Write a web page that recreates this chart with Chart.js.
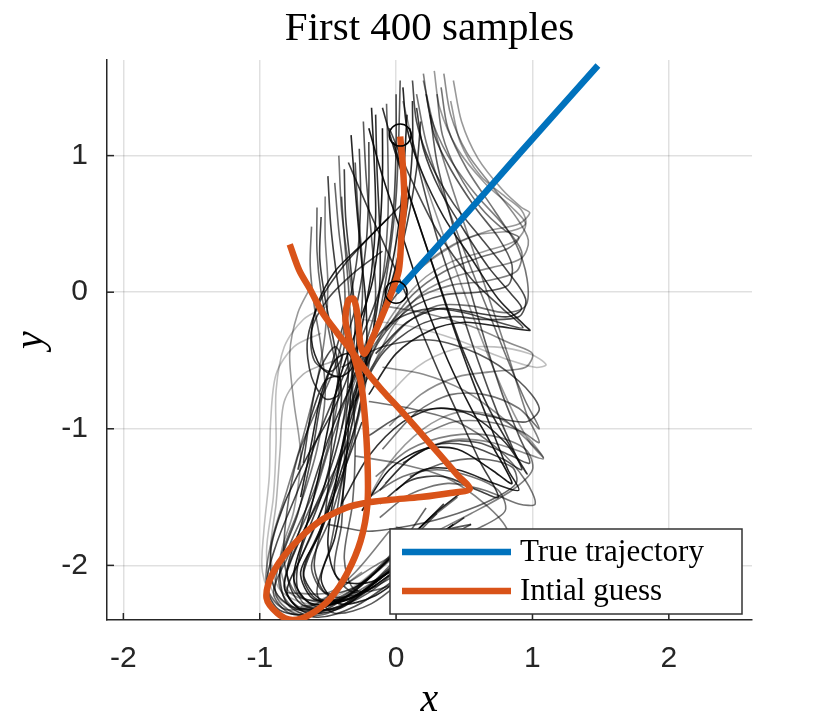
<!DOCTYPE html>
<html lang="en">
<head>
  <meta charset="UTF-8">
  <title>First 400 samples</title>
  <script src="https://cdn.jsdelivr.net/npm/chart.js"></script>
  <style>
    html, body { margin: 0; padding: 0; background: #fff; }
  </style>
</head>
<body>
  <canvas id="myChart" width="830" height="720"></canvas>

  <script>
    // axes
    const xRange = [-2.12, 2.61];
    const yRange = [-2.40, 1.70];
    const xTicks = [-2, -1, 0, 1, 2];
    const yTicks = [-2, -1, 0, 1];

    // true trajectory / initial guess, [x, y]
    const trueTraj = [[0, 0], [0.45, 0.50], [0.90, 1.01], [1.48, 1.66]];
    const initGuess = [
      [-0.78, 0.35], [-0.71, 0.16], [-0.63, 0.02], [-0.54, -0.15], [-0.43, -0.30], [-0.32, -0.44],
      [-0.21, -0.59], [-0.10, -0.72], [0.03, -0.86], [0.18, -1.03], [0.32, -1.19], [0.45, -1.34],
      [0.54, -1.44], [0.40, -1.47], [0.18, -1.50], [-0.04, -1.52], [-0.21, -1.54], [-0.37, -1.58],
      [-0.58, -1.69], [-0.78, -1.88], [-0.91, -2.07], [-0.95, -2.24], [-0.87, -2.35], [-0.76, -2.40],
      [-0.63, -2.36], [-0.48, -2.24], [-0.36, -2.06], [-0.26, -1.82], [-0.21, -1.55], [-0.21, -1.23],
      [-0.23, -0.90], [-0.26, -0.65], [-0.32, -0.43], [-0.37, -0.22], [-0.35, -0.06], [-0.31, -0.05],
      [-0.28, -0.19], [-0.26, -0.39], [-0.23, -0.45], [-0.14, -0.26], [-0.04, -0.02], [0.02, 0.16],
      [0.04, 0.43], [0.06, 0.67], [0.05, 0.92], [0.03, 1.14]
    ];
    const markers = [[0, 0], [0.03, 1.15]];

    // sample trajectories (a readable subset of the 400)
    const sampleA1 = [[-0.58,0.62],[-0.58,0.30],[-0.55,0.00],[-0.48,-0.35],[-0.42,-0.70],[-0.48,-1.05],[-0.60,-1.45],[-0.78,-1.85],[-0.86,-2.12],[-0.76,-2.30],[-0.52,-2.30],[-0.22,-2.10],[0.05,-1.82],[0.22,-1.58]];
    const sampleA2 = [[-0.50,0.85],[-0.48,0.50],[-0.44,0.15],[-0.38,-0.25],[-0.35,-0.60],[-0.40,-1.00],[-0.52,-1.40],[-0.70,-1.80],[-0.82,-2.15],[-0.70,-2.32],[-0.45,-2.28],[-0.15,-2.05],[0.15,-1.75],[0.35,-1.55]];
    const sampleA3 = [[-0.42,1.00],[-0.40,0.60],[-0.35,0.20],[-0.30,-0.20],[-0.28,-0.55],[-0.32,-0.95],[-0.45,-1.35],[-0.62,-1.78],[-0.75,-2.10],[-0.65,-2.30],[-0.40,-2.25],[-0.10,-2.00],[0.20,-1.70],[0.45,-1.50]];
    const sampleA4 = [[-0.33,1.15],[-0.30,0.75],[-0.26,0.30],[-0.22,-0.10],[-0.22,-0.50],[-0.28,-0.90],[-0.40,-1.30],[-0.55,-1.75],[-0.70,-2.05],[-0.60,-2.25],[-0.35,-2.22],[-0.05,-1.95],[0.25,-1.65],[0.50,-1.45]];
    const sampleA5 = [[-0.24,1.25],[-0.22,0.85],[-0.18,0.40],[-0.15,0.00],[-0.18,-0.40],[-0.25,-0.80],[-0.35,-1.20],[-0.48,-1.65],[-0.62,-2.00],[-0.52,-2.20],[-0.28,-2.15],[0.00,-1.92],[0.30,-1.62]];
    const sampleA6 = [[-0.15,1.30],[-0.14,0.90],[-0.12,0.45],[-0.12,0.05],[-0.18,-0.35],[-0.28,-0.75],[-0.40,-1.15],[-0.55,-1.60],[-0.70,-1.95],[-0.80,-2.20],[-0.65,-2.35],[-0.38,-2.30],[-0.08,-2.05],[0.20,-1.80]];
    const sampleA7 = [[-0.07,1.38],[-0.06,1.00],[-0.06,0.55],[-0.10,0.10],[-0.20,-0.30],[-0.34,-0.70],[-0.48,-1.10],[-0.62,-1.55],[-0.80,-1.95],[-0.90,-2.20],[-0.78,-2.35],[-0.50,-2.35],[-0.20,-2.15],[0.10,-1.85]];
    const sampleA8 = [[0.00,1.45],[0.00,1.05],[-0.02,0.60],[-0.08,0.15],[-0.22,-0.25],[-0.38,-0.60],[-0.55,-1.00],[-0.72,-1.45],[-0.88,-1.85],[-0.95,-2.15],[-0.85,-2.33],[-0.58,-2.35],[-0.28,-2.18]];
    const sampleA9 = [[-0.52,0.70],[-0.52,0.40],[-0.50,0.05],[-0.52,-0.30],[-0.58,-0.65],[-0.68,-1.05],[-0.80,-1.45],[-0.92,-1.85],[-0.95,-2.15],[-0.82,-2.32],[-0.58,-2.28],[-0.30,-2.05],[-0.05,-1.75]];
    const sampleA10 = [[-0.38,0.90],[-0.37,0.55],[-0.33,0.15],[-0.30,-0.25],[-0.35,-0.60],[-0.48,-0.90],[-0.65,-1.20],[-0.82,-1.55],[-0.92,-1.90],[-0.88,-2.20],[-0.70,-2.33],[-0.42,-2.30],[-0.12,-2.10],[0.18,-1.82]];
    const sampleA11 = [[-0.62,0.48],[-0.63,0.20],[-0.60,-0.10],[-0.55,-0.40],[-0.52,-0.75],[-0.58,-1.15],[-0.70,-1.55],[-0.85,-1.95],[-0.88,-2.22],[-0.72,-2.36],[-0.45,-2.32]];
    const sampleA12 = [[-0.20,1.10],[-0.20,0.75],[-0.22,0.35],[-0.28,-0.05],[-0.38,-0.40],[-0.45,-0.80],[-0.48,-1.20],[-0.52,-1.62],[-0.60,-2.00],[-0.50,-2.22],[-0.25,-2.20],[0.05,-2.00],[0.35,-1.78]];
    const sampleA13 = [[0.08,1.30],[0.06,0.95],[0.02,0.50],[-0.05,0.10],[-0.15,-0.30],[-0.28,-0.68],[-0.38,-1.05],[-0.45,-1.45],[-0.50,-1.85],[-0.42,-2.10],[-0.18,-2.12],[0.12,-1.92],[0.42,-1.70]];
    const sampleA14 = [[-0.45,0.80],[-0.42,0.45],[-0.38,0.10],[-0.38,-0.25],[-0.45,-0.55],[-0.58,-0.85],[-0.72,-1.20],[-0.80,-1.60],[-0.82,-1.98],[-0.72,-2.22],[-0.48,-2.26],[-0.18,-2.08]];
    const sampleA15 = [[-0.30,0.95],[-0.28,0.60],[-0.25,0.25],[-0.25,-0.10],[-0.30,-0.45],[-0.36,-0.85],[-0.38,-1.25],[-0.40,-1.70],[-0.45,-2.05],[-0.30,-2.20],[-0.02,-2.08],[0.28,-1.85],[0.55,-1.70]];
    const sampleA16 = [[-0.55,0.55],[-0.56,0.25],[-0.52,-0.05],[-0.45,-0.40],[-0.40,-0.75],[-0.45,-1.10],[-0.55,-1.50],[-0.70,-1.90],[-0.72,-2.18],[-0.58,-2.30],[-0.30,-2.22],[0.00,-2.00]];
    const sampleA17 = [[-0.10,1.20],[-0.10,0.85],[-0.12,0.45],[-0.18,0.05],[-0.30,-0.30],[-0.42,-0.65],[-0.50,-1.00],[-0.58,-1.40],[-0.68,-1.80],[-0.75,-2.10],[-0.62,-2.28],[-0.35,-2.25],[-0.05,-2.05],[0.25,-1.85]];
    const sampleA18 = [[0.03,1.55],[0.02,1.15],[0.00,0.70],[-0.05,0.25],[-0.12,-0.15],[-0.22,-0.55],[-0.32,-0.95],[-0.40,-1.40],[-0.48,-1.85],[-0.58,-2.20],[-0.45,-2.35],[-0.18,-2.28],[0.12,-2.05],[0.40,-1.85]];
    const sampleA19 = [[0.12,1.40],[0.12,1.05],[0.08,0.62],[0.00,0.20],[-0.12,-0.20],[-0.25,-0.55],[-0.35,-0.90],[-0.42,-1.30],[-0.55,-1.72],[-0.68,-2.05],[-0.55,-2.25],[-0.28,-2.22],[0.02,-2.02]];
    const sampleA20 = [[-0.40,0.70],[-0.38,0.40],[-0.35,0.05],[-0.33,-0.30],[-0.32,-0.70],[-0.30,-1.10],[-0.32,-1.55],[-0.38,-1.95],[-0.30,-2.18],[-0.05,-2.15],[0.25,-1.95],[0.55,-1.78]];
    const sampleA21 = [[-0.27,1.05],[-0.26,0.70],[-0.28,0.30],[-0.35,-0.10],[-0.45,-0.45],[-0.55,-0.80],[-0.62,-1.20],[-0.72,-1.62],[-0.85,-2.00],[-0.80,-2.28],[-0.58,-2.38],[-0.30,-2.30],[0.00,-2.10]];
    const sampleA22 = [[-0.18,1.35],[-0.16,0.95],[-0.15,0.55],[-0.18,0.15],[-0.25,-0.25],[-0.32,-0.62],[-0.35,-1.00],[-0.38,-1.40],[-0.45,-1.80],[-0.55,-2.10],[-0.42,-2.28],[-0.15,-2.22],[0.15,-2.00],[0.45,-1.80]];
    const sampleA23 = [[0.18,1.25],[0.15,0.90],[0.08,0.50],[-0.02,0.10],[-0.15,-0.28],[-0.30,-0.62],[-0.45,-0.95],[-0.58,-1.32],[-0.70,-1.72],[-0.80,-2.05],[-0.70,-2.28],[-0.45,-2.32],[-0.15,-2.15]];
    const sampleB1 = [[0.20,1.60],[0.25,1.30],[0.38,1.00],[0.58,0.72],[0.78,0.50],[0.92,0.30],[0.88,0.15],[0.65,0.08],[0.40,0.05],[0.15,-0.05],[-0.10,-0.30],[-0.30,-0.65],[-0.40,-1.00]];
    const sampleB2 = [[0.28,1.62],[0.32,1.35],[0.45,1.05],[0.65,0.80],[0.85,0.62],[0.95,0.50],[0.88,0.38],[0.65,0.30],[0.40,0.22],[0.18,0.08],[-0.05,-0.20],[-0.22,-0.55],[-0.35,-0.95]];
    const sampleB3 = [[0.12,1.55],[0.15,1.25],[0.25,0.95],[0.42,0.65],[0.62,0.40],[0.82,0.15],[0.95,-0.05],[0.90,-0.18],[0.65,-0.20],[0.40,-0.18],[0.15,-0.25],[-0.10,-0.45],[-0.30,-0.80]];
    const sampleB4 = [[0.33,1.50],[0.38,1.20],[0.52,0.90],[0.72,0.60],[0.88,0.35],[0.96,0.10],[0.95,-0.10],[0.80,-0.15],[0.55,-0.10],[0.30,-0.10],[0.05,-0.25],[-0.18,-0.55],[-0.35,-0.90]];
    const sampleB5 = [[0.05,1.50],[0.08,1.20],[0.18,0.90],[0.35,0.55],[0.55,0.25],[0.75,-0.05],[0.95,-0.25],[0.98,-0.28],[0.75,-0.25],[0.50,-0.22],[0.25,-0.28],[0.00,-0.45],[-0.20,-0.75]];
    const sampleB6 = [[0.40,1.40],[0.47,1.10],[0.62,0.85],[0.80,0.70],[0.92,0.60],[0.95,0.50],[0.85,0.45],[0.60,0.42],[0.35,0.30],[0.10,0.10],[-0.12,-0.20],[-0.30,-0.55]];
    const sampleB7 = [[0.22,1.45],[0.28,1.15],[0.40,0.90],[0.58,0.62],[0.75,0.40],[0.85,0.20],[0.82,0.05],[0.60,0.00],[0.35,-0.02],[0.10,-0.12],[-0.12,-0.35],[-0.28,-0.70]];
    const sampleB8 = [[0.35,1.60],[0.40,1.30],[0.52,1.02],[0.70,0.78],[0.88,0.55],[0.97,0.38],[0.92,0.25],[0.70,0.18],[0.45,0.12],[0.20,0.00],[-0.02,-0.25],[-0.20,-0.60]];
    const sampleB9 = [[0.15,1.35],[0.20,1.05],[0.32,0.75],[0.50,0.45],[0.68,0.18],[0.85,-0.02],[0.92,-0.12],[0.82,-0.18],[0.58,-0.15],[0.32,-0.12],[0.08,-0.22],[-0.15,-0.45]];
    const sampleB10 = [[0.30,1.45],[0.34,1.15],[0.45,0.88],[0.62,0.62],[0.80,0.45],[0.90,0.40],[0.82,0.32],[0.60,0.25],[0.35,0.15],[0.12,-0.02],[-0.08,-0.28]];
    const sampleB11 = [[0.42,1.55],[0.48,1.25],[0.60,0.98],[0.78,0.75],[0.92,0.62],[0.98,0.58],[0.90,0.50],[0.68,0.45],[0.42,0.35],[0.18,0.18],[-0.05,-0.08]];
    const sampleC1 = [[-0.10,1.35],[0.00,1.00],[0.15,0.55],[0.32,0.05],[0.50,-0.45],[0.68,-0.85],[0.85,-1.15],[0.96,-1.33],[0.80,-1.10],[0.55,-0.90],[0.30,-0.85],[0.05,-0.95],[-0.20,-1.20],[-0.40,-1.55]];
    const sampleC2 = [[0.05,1.40],[0.15,1.00],[0.30,0.55],[0.48,0.05],[0.65,-0.40],[0.82,-0.80],[0.98,-1.10],[1.08,-1.21],[0.95,-1.05],[0.70,-0.90],[0.45,-0.88],[0.20,-1.00],[-0.05,-1.25],[-0.25,-1.60]];
    const sampleC3 = [[-0.20,1.20],[-0.10,0.85],[0.05,0.40],[0.20,-0.05],[0.38,-0.50],[0.55,-0.85],[0.72,-1.15],[0.85,-1.40],[0.70,-1.30],[0.45,-1.15],[0.20,-1.15],[-0.05,-1.30],[-0.25,-1.60]];
    const sampleC4 = [[0.15,1.45],[0.22,1.10],[0.35,0.70],[0.52,0.25],[0.68,-0.15],[0.82,-0.50],[0.95,-0.80],[1.05,-1.00],[0.90,-0.85],[0.65,-0.75],[0.40,-0.75],[0.15,-0.88],[-0.10,-1.15]];
    const sampleC5 = [[0.25,1.30],[0.30,0.95],[0.40,0.55],[0.52,0.10],[0.65,-0.35],[0.78,-0.75],[0.90,-1.05],[0.98,-1.25],[0.85,-1.20],[0.60,-1.10],[0.35,-1.10],[0.10,-1.22],[-0.12,-1.45]];
    const sampleC6 = [[-0.35,0.95],[-0.20,0.60],[-0.02,0.20],[0.15,-0.20],[0.32,-0.60],[0.48,-0.95],[0.62,-1.25],[0.75,-1.50],[0.60,-1.45],[0.35,-1.35],[0.10,-1.38],[-0.12,-1.55]];
    const sampleC7 = [[0.10,1.20],[0.18,0.85],[0.30,0.40],[0.45,-0.05],[0.60,-0.50],[0.75,-0.90],[0.88,-1.20],[0.92,-1.30],[0.78,-1.22],[0.52,-1.12],[0.28,-1.12],[0.05,-1.25]];
    const sampleC8 = [[-0.02,1.10],[0.10,0.70],[0.25,0.25],[0.40,-0.20],[0.55,-0.62],[0.70,-1.00],[0.82,-1.30],[0.90,-1.45],[0.72,-1.40],[0.45,-1.30],[0.20,-1.30],[0.00,-1.45]];
    const sampleC9 = [[0.20,1.55],[0.28,1.20],[0.40,0.80],[0.55,0.35],[0.70,-0.10],[0.84,-0.52],[0.96,-0.90],[1.05,-1.10],[0.92,-1.02],[0.68,-0.95],[0.42,-0.95],[0.18,-1.05]];
    const sampleD1 = [[-0.05,1.20],[0.10,0.85],[0.30,0.45],[0.55,0.10],[0.78,-0.12],[0.93,-0.26],[0.75,-0.22],[0.50,-0.15],[0.25,-0.12],[0.00,-0.20],[-0.20,-0.40],[-0.35,-0.70]];
    const sampleE1 = [[-0.25,-0.20],[0.10,-0.25],[0.45,-0.35],[0.78,-0.48],[1.02,-0.55],[1.10,-0.53],[0.98,-0.45],[0.72,-0.40],[0.42,-0.42],[0.15,-0.55],[-0.08,-0.78]];
    const sampleE2 = [[-0.70,-2.30],[-0.40,-2.25],[-0.05,-2.05],[0.30,-1.85],[0.62,-1.72],[0.80,-1.60],[0.75,-1.45],[0.55,-1.35],[0.30,-1.30],[0.05,-1.35],[-0.20,-1.50]];
    const sampleE3 = [[-0.80,-2.20],[-0.50,-2.20],[-0.15,-2.00],[0.20,-1.80],[0.55,-1.62],[0.85,-1.45],[1.00,-1.30],[0.95,-1.15],[0.70,-1.05],[0.40,-1.05],[0.10,-1.15],[-0.15,-1.35]];
    const sampleE4 = [[-0.40,-0.55],[-0.10,-0.40],[0.25,-0.35],[0.60,-0.45],[0.90,-0.65],[1.05,-0.85],[0.95,-0.95],[0.65,-0.90],[0.35,-0.85],[0.05,-0.90],[-0.20,-1.05]];
    const sampleE5 = [[-0.10,-0.55],[0.20,-0.60],[0.50,-0.72],[0.78,-0.92],[1.00,-1.12],[1.08,-1.22],[0.95,-1.18],[0.70,-1.10],[0.42,-1.08],[0.15,-1.18],[-0.08,-1.40]];
    const sampleE6 = [[-0.20,-0.80],[0.10,-0.85],[0.45,-0.95],[0.75,-1.15],[0.95,-1.38],[1.02,-1.55],[0.90,-1.55],[0.65,-1.45],[0.38,-1.40],[0.10,-1.48],[-0.12,-1.65]];
    const sampleE7 = [[-0.30,-1.20],[0.00,-1.25],[0.35,-1.35],[0.65,-1.55],[0.82,-1.75],[0.78,-1.90],[0.55,-1.88],[0.25,-1.78],[0.00,-1.72]];
    const sampleE8 = [[-0.10,-0.10],[0.20,-0.15],[0.55,-0.25],[0.85,-0.38],[1.00,-0.45],[0.95,-0.55],[0.72,-0.58],[0.45,-0.62],[0.18,-0.75],[-0.05,-0.98]];
    const sampleE9 = [[-0.50,-1.70],[-0.20,-1.75],[0.15,-1.70],[0.45,-1.62],[0.70,-1.52],[0.88,-1.40],[0.85,-1.28],[0.62,-1.22],[0.35,-1.25],[0.10,-1.35]];
    const sampleF1 = [[-0.55,-0.30],[-0.75,-0.40],[-0.88,-0.60],[-0.92,-0.95],[-0.93,-1.35],[-0.97,-1.75],[-0.98,-2.05],[-0.88,-2.28],[-0.65,-2.35],[-0.35,-2.22]];
    const sampleF2 = [[-0.45,-0.50],[-0.68,-0.60],[-0.82,-0.80],[-0.85,-1.15],[-0.88,-1.55],[-0.92,-1.90],[-0.85,-2.18],[-0.62,-2.28],[-0.30,-2.15],[0.00,-1.90]];
    const sampleF3 = [[-0.62,0.05],[-0.72,-0.15],[-0.78,-0.45],[-0.75,-0.80],[-0.70,-1.20],[-0.75,-1.60],[-0.85,-1.95],[-0.78,-2.20],[-0.55,-2.25],[-0.25,-2.05]];
    const sampleF4 = [[-0.50,-0.10],[-0.68,-0.20],[-0.82,-0.40],[-0.88,-0.72],[-0.88,-1.10],[-0.90,-1.50],[-0.95,-1.90],[-0.90,-2.20],[-0.70,-2.32],[-0.40,-2.25]];
    const sampleG1 = [[-0.05,0.55],[-0.25,0.35],[-0.45,0.15],[-0.58,-0.10],[-0.62,-0.35],[-0.55,-0.55],[-0.42,-0.62],[-0.32,-0.55],[-0.35,-0.45],[-0.45,-0.50],[-0.55,-0.75],[-0.62,-1.10],[-0.70,-1.50]];
    const sampleG2 = [[-0.10,0.30],[-0.30,0.15],[-0.50,-0.05],[-0.62,-0.28],[-0.60,-0.50],[-0.48,-0.58],[-0.40,-0.48],[-0.45,-0.40],[-0.55,-0.55],[-0.62,-0.85],[-0.68,-1.25]];
    const sampleG3 = [[0.10,0.70],[-0.15,0.45],[-0.38,0.20],[-0.55,-0.05],[-0.65,-0.35],[-0.62,-0.62],[-0.52,-0.78],[-0.42,-0.75],[-0.42,-0.62],[-0.52,-0.65],[-0.62,-0.90],[-0.72,-1.30]];
    const sampleH1 = [[-0.35,-1.10],[-0.55,-1.50],[-0.75,-1.90],[-0.82,-2.15],[-0.72,-2.30],[-0.48,-2.32],[-0.20,-2.20],[0.10,-1.95],[0.35,-1.75],[0.55,-1.70]];
    const sampleH2 = [[-0.25,-0.95],[-0.40,-1.35],[-0.58,-1.80],[-0.68,-2.08],[-0.58,-2.25],[-0.35,-2.25],[-0.05,-2.05],[0.25,-1.82],[0.50,-1.65]];

    const samplePaths = [
      sampleA1, sampleA2, sampleA3, sampleA4, sampleA5, sampleA6, sampleA7, sampleA8, sampleA9, sampleA10,
      sampleA11, sampleA12, sampleA13, sampleA14, sampleA15, sampleA16, sampleA17, sampleA18, sampleA19, sampleA20,
      sampleA21, sampleA22, sampleA23,
      sampleB1, sampleB2, sampleB3, sampleB4, sampleB5, sampleB6, sampleB7, sampleB8, sampleB9, sampleB10, sampleB11,
      sampleC1, sampleC2, sampleC3, sampleC4, sampleC5, sampleC6, sampleC7, sampleC8, sampleC9, sampleD1,
      sampleE1, sampleE2, sampleE3, sampleE4, sampleE5, sampleE6, sampleE7, sampleE8, sampleE9,
      sampleF1, sampleF2, sampleF3, sampleF4, sampleG1, sampleG2, sampleG3, sampleH1, sampleH2
    ];
    const sampleAlpha = [
      0.6, 0.75, 0.55, 0.85, 0.65, 0.8, 0.6, 0.7, 0.5, 0.75,
      0.55, 0.7, 0.85, 0.6, 0.65, 0.75, 0.9, 0.65, 0.8, 0.6,
      0.7, 0.85, 0.75,
      0.5, 0.4, 0.7, 0.55, 0.85, 0.4, 0.65, 0.45, 0.75, 0.55, 0.4,
      0.8, 0.4, 0.9, 0.55, 0.65, 0.75, 0.7, 0.85, 0.5, 0.7,
      0.25, 0.55, 0.5, 0.65, 0.45, 0.55, 0.5, 0.45, 0.6,
      0.25, 0.3, 0.4, 0.25, 0.85, 0.7, 0.75, 0.65, 0.75
    ];

    const toXY = arr => arr.map(p => ({ x: p[0], y: p[1] }));

    const tickFont = { family: 'Liberation Sans', size: 30 };
    const axisColor = '#262626';

    const datasets = samplePaths.map((path, i) => ({
      label: 'sample ' + (i + 1),
      data: toXY(path),
      showLine: true,
      borderColor: 'rgba(0,0,0,' + sampleAlpha[i] + ')',
      borderWidth: 1.6,
      tension: 0.3,
      pointRadius: 0,
      order: 10
    }));
    datasets.push({
      label: 'True trajectory',
      data: toXY(trueTraj),
      showLine: true,
      borderColor: '#0072BD',
      borderWidth: 6.5,
      tension: 0.2,
      pointRadius: 0,
      order: 3
    });
    datasets.push({
      label: 'Intial guess',
      data: toXY(initGuess),
      showLine: true,
      borderColor: '#D95319',
      borderWidth: 6.5,
      borderJoinStyle: 'round',
      tension: 0.3,
      pointRadius: 0,
      order: 2
    });
    datasets.push({
      label: 'markers',
      data: toXY(markers),
      showLine: false,
      pointRadius: 11,
      pointBorderWidth: 1.5,
      pointBorderColor: '#000',
      pointBackgroundColor: 'rgba(0,0,0,0)',
      order: 1
    });

    // title, axis labels, inward ticks and a matlab-ish legend box
    const decor = {
      id: 'decor',
      afterDraw(chart) {
        const ctx = chart.ctx;
        const area = chart.chartArea;
        const xs = chart.scales.x, ys = chart.scales.y;
        ctx.save();

        ctx.strokeStyle = axisColor;
        ctx.lineWidth = 1.5;
        xTicks.forEach(v => {
          const px = xs.getPixelForValue(v);
          ctx.beginPath(); ctx.moveTo(px, area.bottom); ctx.lineTo(px, area.bottom - 7); ctx.stroke();
        });
        yTicks.forEach(v => {
          const py = ys.getPixelForValue(v);
          ctx.beginPath(); ctx.moveTo(area.left, py); ctx.lineTo(area.left + 7, py); ctx.stroke();
        });

        ctx.fillStyle = '#000';
        ctx.textAlign = 'center';
        ctx.textBaseline = 'alphabetic';
        ctx.font = '41px "Liberation Serif"';
        ctx.fillText('First 400 samples', (area.left + area.right) / 2, 40);

        ctx.font = 'italic 40px "Liberation Serif"';
        ctx.fillText('x', (area.left + area.right) / 2, 711);
        ctx.save();
        ctx.translate(42, (area.top + area.bottom) / 2);
        ctx.rotate(-Math.PI / 2);
        ctx.fillText('y', 0, 0);
        ctx.restore();

        // legend
        const box = { x: 390, y: 529, w: 352, h: 85 };
        ctx.fillStyle = '#fff';
        ctx.fillRect(box.x, box.y, box.w, box.h);
        ctx.strokeStyle = '#333';
        ctx.lineWidth = 1.5;
        ctx.strokeRect(box.x, box.y, box.w, box.h);
        const entries = [datasets[datasets.length - 3], datasets[datasets.length - 2]];
        const rows = [552, 591];
        ctx.font = '31px "Liberation Serif"';
        ctx.textAlign = 'left';
        ctx.textBaseline = 'middle';
        entries.forEach((ds, i) => {
          ctx.strokeStyle = ds.borderColor;
          ctx.lineWidth = 6.5;
          ctx.beginPath(); ctx.moveTo(402, rows[i]); ctx.lineTo(511, rows[i]); ctx.stroke();
          ctx.fillStyle = '#000';
          ctx.fillText(ds.label, 520, rows[i] + 1);
        });
        ctx.restore();
      }
    };

    const ctx = document.getElementById('myChart').getContext('2d');
    const myChart = new Chart(ctx, {
      type: 'scatter',
      data: { datasets: datasets },
      options: {
        responsive: false,
        animation: false,
        layout: { padding: { left: 0, right: 78, top: 60, bottom: 0 } },
        plugins: {
          legend: { display: false },
          title: { display: false },
          tooltip: { enabled: false }
        },
        scales: {
          x: {
            type: 'linear',
            min: xRange[0],
            max: xRange[1],
            afterFit: s => { s.height = 100; },
            afterBuildTicks: s => { s.ticks = xTicks.map(v => ({ value: v })); },
            grid: { color: 'rgba(0,0,0,0.12)', lineWidth: 1.5, drawTicks: false },
            border: { color: axisColor, width: 1.5 },
            ticks: { font: tickFont, color: axisColor, padding: 21, maxRotation: 0 }
          },
          y: {
            type: 'linear',
            min: yRange[0],
            max: yRange[1],
            afterFit: s => { s.width = 107; },
            afterBuildTicks: s => { s.ticks = yTicks.map(v => ({ value: v })); },
            grid: { color: 'rgba(0,0,0,0.12)', lineWidth: 1.5, drawTicks: false },
            border: { color: axisColor, width: 1.5 },
            ticks: { font: tickFont, color: axisColor, padding: 19 }
          }
        }
      },
      plugins: [decor]
    });
  </script>
</body>
</html>
